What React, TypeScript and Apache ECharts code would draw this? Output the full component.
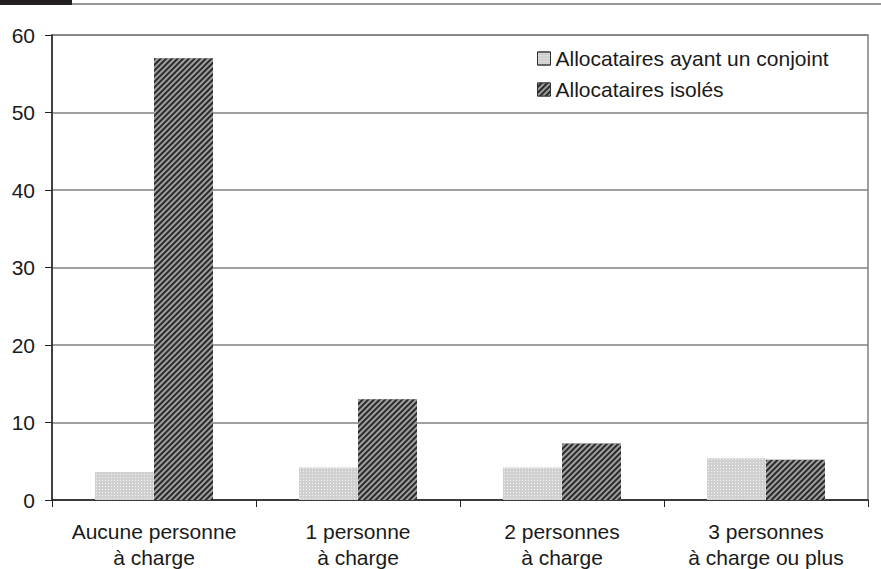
import React, { useEffect, useRef } from "react";
import * as echarts from "echarts";

const categories = ["Aucune personne\nà charge", "1 personne\nà charge", "2 personnes\nà charge", "3 personnes\nà charge ou plus"];
const seriesNames = ["Allocataires ayant un conjoint", "Allocataires isolés"];
const conjointValues = [3.6, 4.2, 4.2, 5.4];
const isolesValues = [57, 13, 7.3, 5.2];
const yTicks = [0, 10, 20, 30, 40, 50, 60];

export default function App() {
  const ref = useRef<HTMLDivElement>(null);
  useEffect(() => {
    if (!ref.current) return;
    const chart = echarts.init(ref.current, undefined, { renderer: "svg" });
    const font = "Arial";
    chart.setOption({
      animation: false,
      backgroundColor: "#ffffff",
      graphic: [
        { type: "rect", shape: { x: 0, y: 0, width: 72, height: 5 }, style: { fill: "#231f20" } },
        { type: "line", shape: { x1: 72, y1: 4, x2: 881, y2: 4 }, style: { stroke: "#777", lineWidth: 1.5 } },
      ],
      grid: {
        left: 52, right: 13, top: 35, bottom: 69,
        show: true, borderColor: "#808080", borderWidth: 1.5,
        outerBoundsMode: "none", containLabel: false,
      },
      legend: {
        orient: "vertical",
        left: 537,
        top: 48,
        padding: 0,
        itemWidth: 13,
        itemHeight: 13,
        itemGap: 10,
        icon: "rect",
        textStyle: { fontFamily: font, fontSize: 21, color: "#1a1a1a" },
        data: [
          { name: seriesNames[0], itemStyle: { borderColor: "#333", borderWidth: 1 } },
          { name: seriesNames[1], itemStyle: { borderColor: "#333", borderWidth: 1 } },
        ],
      },
      xAxis: {
        type: "category",
        data: categories,
        axisLine: { lineStyle: { color: "#222", width: 1.5 } },
        axisTick: { show: true, length: 7, interval: 0, alignWithLabel: false, lineStyle: { color: "#222" } },
        axisLabel: { fontFamily: font, fontSize: 21, color: "#1a1a1a", lineHeight: 26, margin: 18, interval: 0 },
      },
      yAxis: {
        type: "value",
        min: yTicks[0],
        max: yTicks[yTicks.length - 1],
        interval: 10,
        axisLine: { show: true, lineStyle: { color: "#222", width: 1.5 } },
        axisTick: { show: true, length: 7, inside: false, lineStyle: { color: "#222" } },
        axisLabel: { fontFamily: font, fontSize: 21, color: "#1a1a1a", margin: 17 },
        splitLine: { lineStyle: { color: "#808080", width: 1.5 } },
      },
      series: [
        {
          name: seriesNames[0],
          type: "bar",
          data: conjointValues,
          barWidth: 59,
          barGap: "0%",
          itemStyle: {
            color: "#d0d0d0",
            decal: {
              symbol: "rect",
              color: "rgba(255,255,255,0.7)",
              symbolSize: 1,
              dashArrayX: [1, 2],
              dashArrayY: [1, 2],
              rotation: 0,
            },
          },
        },
        {
          name: seriesNames[1],
          type: "bar",
          data: isolesValues,
          barWidth: 59,
          barGap: "0%",
          itemStyle: {
            color: "#2a2a2a",
            decal: {
              symbol: "rect",
              color: "rgba(255,255,255,0.55)",
              symbolSize: 1,
              dashArrayX: [1, 0],
              dashArrayY: [1.5, 2],
              rotation: -Math.PI / 4,
            },
          },
        },
      ],
    });
    return () => chart.dispose();
  }, []);
  return <div ref={ref} style={{ width: 881, height: 569, position: "absolute", left: 0, top: 0 }} />;
}
